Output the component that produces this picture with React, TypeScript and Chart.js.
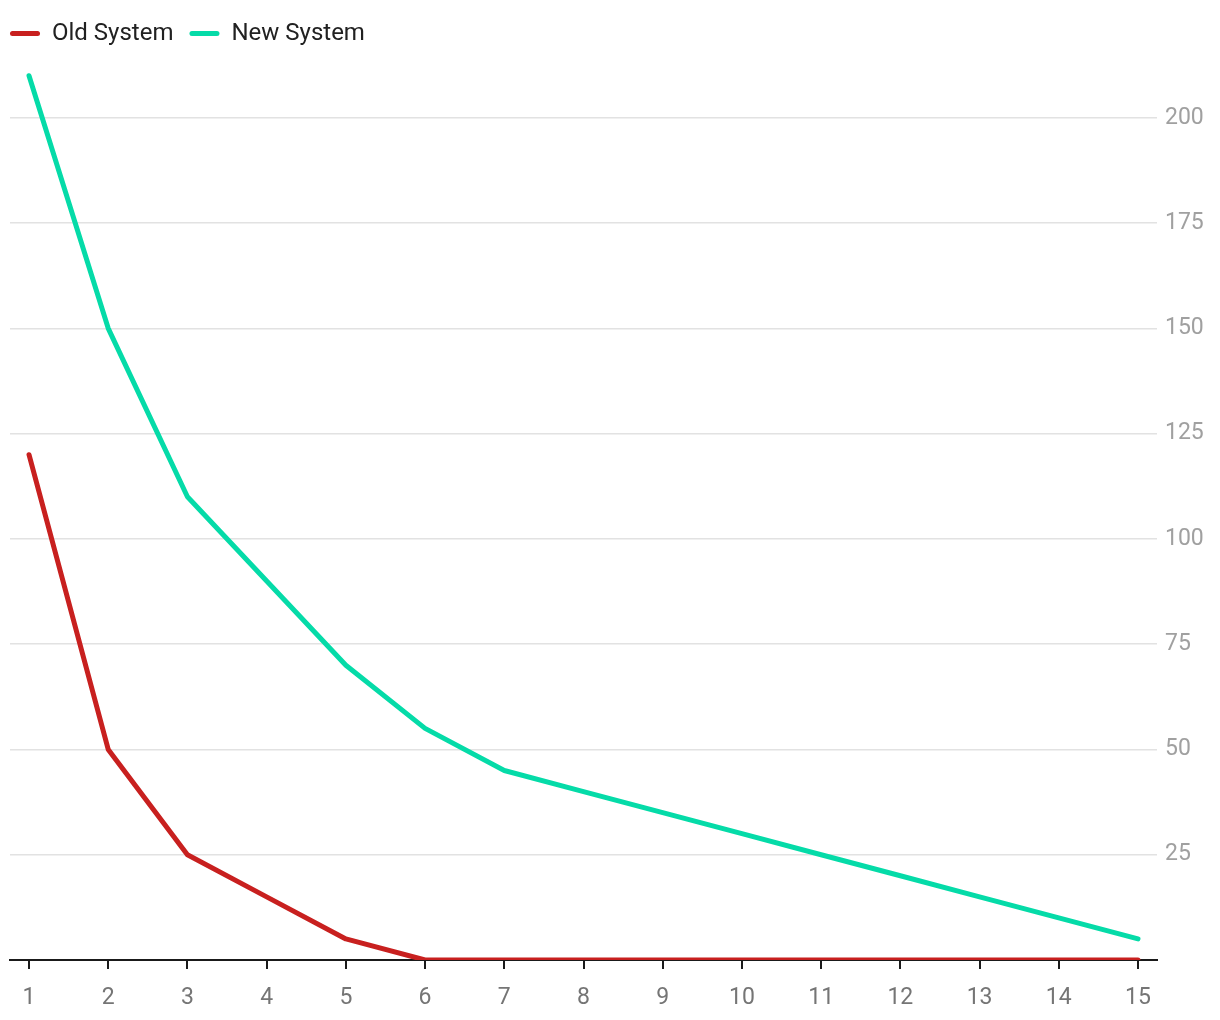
import React, { useEffect, useRef } from "react";
import { Chart, registerables } from "chart.js";

Chart.register(...registerables);

const categories = [1, 2, 3, 4, 5, 6, 7, 8, 9, 10, 11, 12, 13, 14, 15];
const oldSystem = [120, 50, 25, 15, 5, 0, 0, 0, 0, 0, 0, 0, 0, 0, 0];
const newSystem = [210, 150, 110, 90, 70, 55, 45, 40, 35, 30, 25, 20, 15, 10, 5];
const yTicks = [25, 50, 75, 100, 125, 150, 175, 200];
const seriesNames = ["Old System", "New System"];

const RED = "#c8201f";
const GREEN = "#05dba8";

const shiftLegend = {
  id: "shiftLegend",
  afterLayout(chart: any) {
    const lg = chart.legend;
    if (lg) {
      lg.left -= 16;
      lg.right -= 16;
    }
  },
};

export default function App() {
  const ref = useRef<HTMLCanvasElement | null>(null);
  useEffect(() => {
    if (!ref.current) return;
    const toPts = (arr: number[]) => arr.map((v, i) => ({ x: categories[i], y: v }));
    const chart = new Chart(ref.current, {
      type: "line",
      plugins: [shiftLegend],
      data: {
        datasets: [
          {
            label: seriesNames[0],
            data: toPts(oldSystem),
            borderColor: RED,
            backgroundColor: RED,
            borderWidth: 5,
            pointRadius: 0,
            tension: 0,
            borderJoinStyle: "round",
            borderCapStyle: "round",
          },
          {
            label: seriesNames[1],
            data: toPts(newSystem),
            borderColor: GREEN,
            backgroundColor: GREEN,
            borderWidth: 5,
            pointRadius: 0,
            tension: 0,
            borderJoinStyle: "round",
            borderCapStyle: "round",
          },
        ],
      },
      options: {
        responsive: false,
        animation: false,
        layout: { padding: { left: 10, top: 5.5, right: 0, bottom: 0 } },
        plugins: {
          tooltip: { enabled: false },
          legend: {
            position: "top",
            align: "start",
            labels: {
              color: "#212121",
              font: { family: "Roboto", size: 24 },
              boxWidth: 30,
              boxHeight: 5,
              useBorderRadius: true,
              borderRadius: 2.5,
              padding: 16,
              generateLabels: (c: any) =>
                Chart.defaults.plugins.legend.labels.generateLabels(c).map((l: any) => ({ ...l, lineWidth: 0 })),
            },
          },
        },
        scales: {
          x: {
            type: "linear",
            min: 0.76,
            max: 15.24,
            afterBuildTicks: (s: any) => {
              s.ticks = categories.map((c) => ({ value: c }));
            },
            afterFit: (s: any) => {
              s.height = 60;
            },
            grid: {
              display: true,
              drawOnChartArea: false,
              drawTicks: true,
              tickLength: 9,
              color: "#1a1a1a",
              lineWidth: 2,
            },
            border: { display: true, color: "#1a1a1a", width: 2 },
            ticks: {
              color: "#757575",
              font: { family: "Roboto", size: 23 },
              padding: 15,
              maxRotation: 0,
              autoSkip: false,
            },
          },
          y: {
            position: "right",
            min: 0,
            max: 214.8,
            afterBuildTicks: (s: any) => {
              s.ticks = yTicks.map((v) => ({ value: v }));
            },
            afterFit: (s: any) => {
              s.width = 63;
            },
            grid: {
              color: "#e2e2e2",
              lineWidth: 1.5,
              drawTicks: false,
            },
            border: { display: false },
            ticks: {
              color: "#a0a0a0",
              font: { family: "Roboto", size: 23 },
              padding: 8,
            },
          },
        },
      },
    });
    return () => chart.destroy();
  }, []);
  return (
    <div style={{ position: "fixed", left: 0, top: 0, width: 1220, height: 1020, background: "#fff" }}>
      <canvas ref={ref} width={1220} height={1020} />
    </div>
  );
}
